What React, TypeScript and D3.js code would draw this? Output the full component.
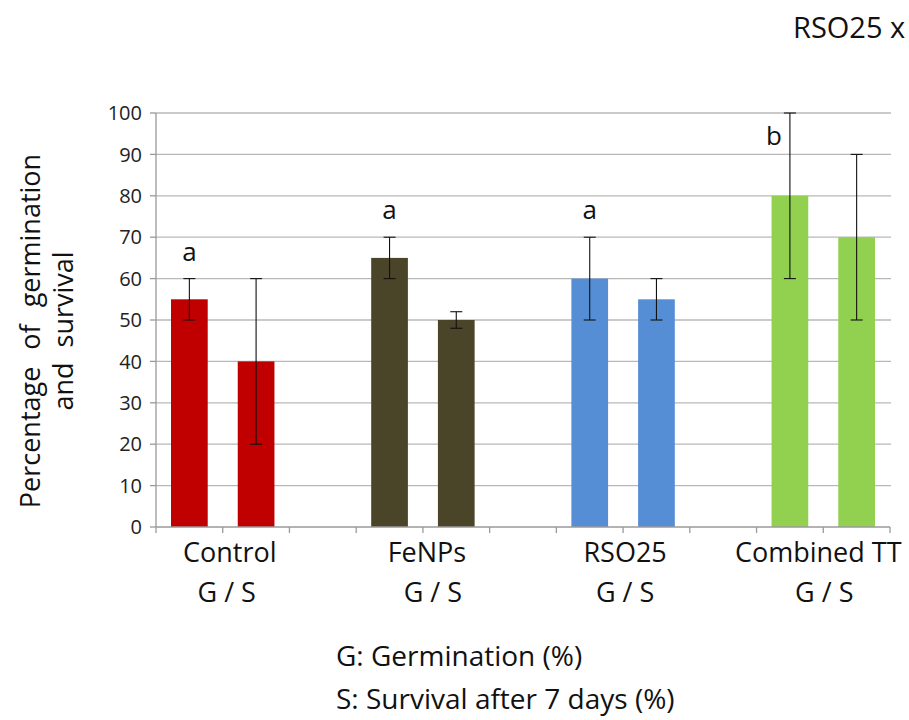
import React, { useEffect, useRef } from 'react';
import * as d3 from 'd3';

const groups = ['Control', 'FeNPs', 'RSO25', 'Combined TT'];
const colors = ['#C00000', '#4A4429', '#568ED6', '#92D050'];
const germination = [55, 65, 60, 80];
const germErr = [5, 5, 10, 20];
const survival = [40, 50, 55, 70];
const survErr = [20, 2, 5, 20];
const letters = ['a', 'a', 'a', 'b'];
const yTicks = [0, 10, 20, 30, 40, 50, 60, 70, 80, 90, 100];

const App = () => {
  const ref = useRef<SVGSVGElement>(null);

  useEffect(() => {
    const svg = d3.select(ref.current);
    svg.selectAll('*').remove();

    const font = "'Open Sans', sans-serif";
    const left = 156;
    const right = 890;
    const top = 113;
    const bottom = 527;

    // 11 slots: G, S, gap for every group (last gap dropped)
    const slots: string[] = [];
    groups.forEach((g, i) => {
      slots.push(g + '|G', g + '|S');
      if (i < groups.length - 1) slots.push(g + '|gap');
    });

    const x = d3.scaleBand().domain(slots).range([left, right]).paddingInner(0.45).paddingOuter(0.225);
    const y = d3.scaleLinear().domain([0, 100]).range([bottom, top]);
    const step = x.step();

    // gridlines
    svg.append('g')
      .selectAll('line')
      .data(yTicks.filter(t => t > 0))
      .enter()
      .append('line')
      .attr('x1', left)
      .attr('x2', right + 1)
      .attr('y1', d => y(d))
      .attr('y2', d => y(d))
      .attr('stroke', '#b8b8b8')
      .attr('stroke-width', 1.3);

    // y axis
    const yAxis = svg.append('g');
    yAxis.append('line')
      .attr('x1', left).attr('x2', left)
      .attr('y1', top).attr('y2', bottom)
      .attr('stroke', '#9a9a9a').attr('stroke-width', 1.3);
    yAxis.selectAll('.tk')
      .data(yTicks)
      .enter()
      .append('line')
      .attr('x1', left - 6).attr('x2', left)
      .attr('y1', d => y(d)).attr('y2', d => y(d))
      .attr('stroke', '#9a9a9a').attr('stroke-width', 1.3);
    yAxis.selectAll('text')
      .data(yTicks)
      .enter()
      .append('text')
      .attr('x', left - 14)
      .attr('y', d => y(d))
      .attr('dy', '0.36em')
      .attr('text-anchor', 'end')
      .style('font-family', font)
      .style('font-size', '20px')
      .attr('fill', '#222')
      .text(d => d);

    // bars
    const bars: { key: string; v: number; e: number; c: string }[] = [];
    groups.forEach((g, i) => {
      bars.push({ key: g + '|G', v: germination[i], e: germErr[i], c: colors[i] });
      bars.push({ key: g + '|S', v: survival[i], e: survErr[i], c: colors[i] });
    });

    svg.append('g')
      .selectAll('rect')
      .data(bars)
      .enter()
      .append('rect')
      .attr('x', d => x(d.key)!)
      .attr('y', d => y(d.v))
      .attr('width', x.bandwidth())
      .attr('height', d => bottom - y(d.v))
      .attr('fill', d => d.c);

    // x axis
    svg.append('line')
      .attr('x1', left).attr('x2', right)
      .attr('y1', bottom).attr('y2', bottom)
      .attr('stroke', '#9a9a9a').attr('stroke-width', 1.3);
    svg.append('g')
      .selectAll('line')
      .data(d3.range(slots.length + 1))
      .enter()
      .append('line')
      .attr('x1', i => left + i * step).attr('x2', i => left + i * step)
      .attr('y1', bottom).attr('y2', bottom + 6)
      .attr('stroke', '#9a9a9a').attr('stroke-width', 1.3);

    // error bars
    const eb = svg.append('g').attr('stroke', '#111').attr('stroke-width', 1.1);
    bars.forEach(d => {
      const cx = x(d.key)! + x.bandwidth() / 2;
      eb.append('line').attr('x1', cx).attr('x2', cx).attr('y1', y(d.v + d.e)).attr('y2', y(d.v - d.e));
      [d.v + d.e, d.v - d.e].forEach(v => {
        eb.append('line').attr('x1', cx - 6).attr('x2', cx + 6).attr('y1', y(v)).attr('y2', y(v));
      });
    });

    // significance letters over germination bars
    groups.forEach((g, i) => {
      const cx = x(g + '|G')! + x.bandwidth() / 2;
      const topV = germination[i] + germErr[i];
      const beside = topV >= 95;
      svg.append('text')
        .attr('x', beside ? cx - 16 : cx)
        .attr('y', beside ? y(topV) + 32 : y(topV) - 18)
        .attr('text-anchor', 'middle')
        .style('font-family', font)
        .style('font-size', '26px')
        .attr('fill', '#111')
        .text(letters[i]);
    });

    // category labels
    const nameShift = [7, 4, 2, -5];
    const gsShift = [4, 10, 2, 1];
    groups.forEach((g, i) => {
      const mid = (x(g + '|G')! + x(g + '|S')! + x.bandwidth()) / 2;
      svg.append('text')
        .attr('x', mid + nameShift[i]).attr('y', 562)
        .attr('text-anchor', 'middle')
        .style('font-family', font)
        .style('font-size', '27px')
        .attr('fill', '#111')
        .text(g);
      svg.append('text')
        .attr('x', mid + gsShift[i])
        .attr('y', 602)
        .attr('text-anchor', 'middle')
        .style('font-family', font)
        .style('font-size', '27px')
        .attr('fill', '#111')
        .text('G / S');
    });

    // y axis title
    const yt = svg.append('text')
      .attr('transform', 'translate(0,331) rotate(-90)')
      .attr('text-anchor', 'middle')
      .style('font-family', font)
      .style('font-size', '27px')
      .attr('fill', '#111');
    yt.append('tspan').attr('x', 0).attr('y', 40).attr('word-spacing', '10px').text('Percentage of germination');
    yt.append('tspan').attr('x', 0).attr('y', 73).attr('word-spacing', '8px').text('and survival');

    // notes under the chart
    svg.append('text')
      .attr('x', 336).attr('y', 666)
      .style('font-family', font).style('font-size', '28px').attr('fill', '#111')
      .text('G: Germination (%)');
    svg.append('text')
      .attr('x', 336).attr('y', 709)
      .style('font-family', font).style('font-size', '28px').attr('fill', '#111')
      .text('S: Survival after 7 days (%)');

    // cropped title
    svg.append('text')
      .attr('x', 793).attr('y', 38)
      .style('font-family', font).style('font-size', '29px').attr('fill', '#111')
      .text('RSO25 x');
  }, []);

  return (
    <svg
      ref={ref}
      width={909}
      height={720}
      style={{ position: 'absolute', left: 0, top: 0, background: '#fff' }}
    />
  );
};

export default App;
